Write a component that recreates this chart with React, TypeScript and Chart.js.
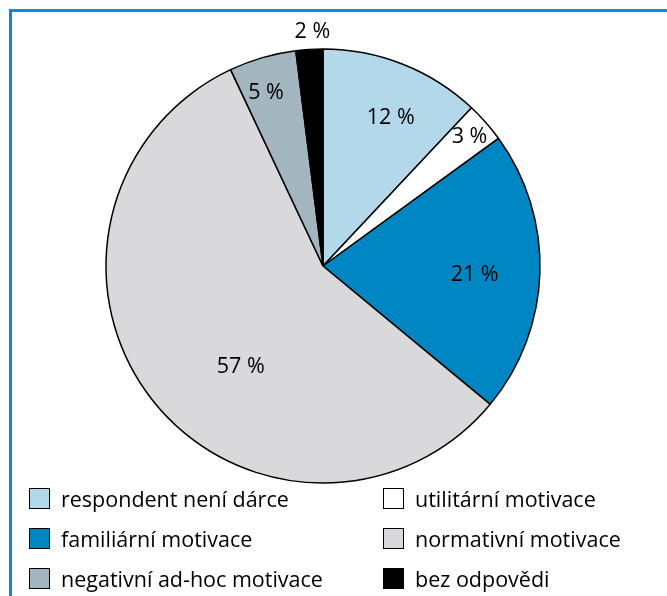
import React, { useEffect, useRef } from "react";
import { Chart, registerables } from "chart.js";

Chart.register(...registerables);

const categories = [
  "respondent není dárce",
  "utilitární motivace",
  "familiární motivace",
  "normativní motivace",
  "negativní ad-hoc motivace",
  "bez odpovědi",
];
const values = [12, 3, 21, 57, 5, 2];
const colors = ["#b3d8e9", "#ffffff", "#0086c3", "#d9d9db", "#a3b5be", "#000000"];
// legend order (two columns, row by row)
const legendOrder = [0, 1, 2, 3, 4, 5];

// label placement: radial fraction and angular offset (deg) per slice
const labelRadius = [0.75, 0.9, 0.7, 0.6, 0.84, 1.08];
const labelAngleOffset = [3, 0, 1.5, -13, -2, 1];

const FONT = "'Open Sans', 'Noto Sans', sans-serif";

const labelPlugin = {
  id: "sliceLabels",
  afterDatasetsDraw(chart: any) {
    const ctx = chart.ctx;
    const meta = chart.getDatasetMeta(0);
    ctx.save();
    ctx.font = `21.5px ${FONT}`;
    ctx.fillStyle = "#000";
    ctx.textAlign = "center";
    ctx.textBaseline = "middle";
    meta.data.forEach((arc: any, i: number) => {
      const p = arc.getProps(["x", "y", "startAngle", "endAngle", "outerRadius"], true);
      const mid = (p.startAngle + p.endAngle) / 2 + (labelAngleOffset[i] * Math.PI) / 180;
      const r = p.outerRadius * labelRadius[i];
      ctx.fillText(`${values[i]} %`, p.x + Math.cos(mid) * r, p.y + Math.sin(mid) * r);
    });
    ctx.restore();
  },
};

export default function App() {
  const ref = useRef<HTMLCanvasElement>(null);
  useEffect(() => {
    if (!ref.current) return;
    const chart = new Chart(ref.current, {
      type: "pie",
      data: {
        labels: categories,
        datasets: [
          {
            data: values,
            backgroundColor: colors,
            borderColor: "#000",
            borderWidth: 1.5,
            hoverOffset: 0,
          },
        ],
      },
      options: {
        responsive: false,
        animation: false,
        radius: 217,
        layout: { padding: { left: 106, right: 127, top: 49, bottom: 113 } },
        plugins: { legend: { display: false }, tooltip: { enabled: false } },
      },
      plugins: [labelPlugin],
    });
    return () => chart.destroy();
  }, []);

  const legendItem = (i: number, left: number, top: number) => (
    <div
      key={i}
      style={{ position: "absolute", left, top, height: 22, display: "flex", alignItems: "center" }}
    >
      <div
        style={{
          width: 21,
          height: 21,
          boxSizing: "border-box",
          border: "1px solid #000",
          background: colors[i],
        }}
      />
      <span style={{ marginLeft: 11, fontFamily: FONT, fontSize: 21.5, color: "#000", whiteSpace: "nowrap" }}>
        {categories[i]}
      </span>
    </div>
  );

  return (
    <div
      style={{
        position: "fixed",
        left: 0,
        top: 0,
        width: 667,
        height: 596,
        overflow: "hidden",
        background: "#fff",
      }}
    >
      <div
        style={{
          position: "absolute",
          left: 9,
          top: 9,
          width: 800,
          height: 800,
          borderLeft: "3px solid #0b8bcf",
          borderTop: "3px solid #0b8bcf",
        }}
      />
      <canvas ref={ref} width={667} height={596} style={{ position: "absolute", left: 0, top: 0 }} />
      {legendOrder.map((idx, k) => {
        const col = k % 2;
        const row = Math.floor(k / 2);
        return legendItem(idx, col === 0 ? 29 : 383, 487 + row * 40);
      })}
    </div>
  );
}
